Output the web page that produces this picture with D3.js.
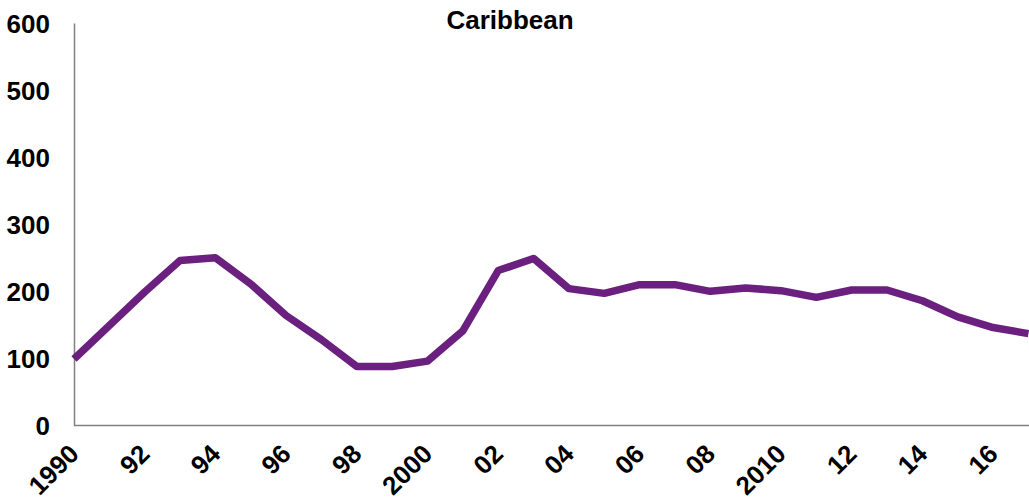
<!DOCTYPE html>
<html>
<head>
<meta charset="utf-8">
<style>
body { margin: 0; background: #fff; }
text { font-family: "Liberation Sans", Arial, sans-serif; font-weight: bold; fill: #000; }
</style>
</head>
<body>
<svg width="1029" height="499"></svg>
<script src="https://cdn.jsdelivr.net/npm/d3@7/dist/d3.min.js"></script>
<script>

var years = d3.range(1990, 2018);
var values = [99, 149, 199, 246, 250, 211, 164, 128, 88, 88, 96, 141, 231, 249,
              204, 197, 210, 210, 200, 205, 201, 191, 202, 202, 186, 162, 146, 137];
var yTicks = [0, 100, 200, 300, 400, 500, 600];
var xTicks = [1990, 1992, 1994, 1996, 1998, 2000, 2002, 2004, 2006, 2008, 2010, 2012, 2014, 2016];
var xLabels = ["1990", "92", "94", "96", "98", "2000", "02", "04", "06", "08", "2010", "12", "14", "16"];
var title = "Caribbean";

var svg = d3.select("svg"),
    margin = {top: 23, right: 0, bottom: 74, left: 74},
    width = +svg.attr("width") - margin.left - margin.right,
    height = +svg.attr("height") - margin.top - margin.bottom,
    g = svg.append("g").attr("transform", "translate(" + margin.left + "," + margin.top + ")");

var x = d3.scaleLinear()
    .domain([1990, 2017])
    .range([0, 27 * 35.35]);

var y = d3.scaleLinear()
    .domain([0, 600])
    .range([height + 0.5, 0]);

// axes
var yAxis = g.append("g")
    .call(d3.axisLeft(y).tickValues(yTicks).tickSize(0).tickPadding(24));
yAxis.select(".domain").attr("stroke", "#808080").attr("stroke-width", 1.5);
yAxis.selectAll("text").attr("font-size", 26).attr("dy", "0.35em");

var xAxis = g.append("g")
    .attr("transform", "translate(0," + y(0) + ")")
    .call(d3.axisBottom(x).tickValues(xTicks).tickSize(0)
      .tickFormat(function(d, i) { return xLabels[i]; }));
xAxis.select(".domain").attr("d", "M0,0H" + (width + 1)).attr("stroke", "#808080").attr("stroke-width", 1.5);
xAxis.selectAll("text")
    .attr("font-size", 26)
    .attr("text-anchor", "end")
    .attr("y", 0)
    .attr("dy", 0)
    .attr("transform", "translate(6,30) rotate(-45)");

// line
var line = d3.line()
    .x(function(d, i) { return x(years[i]); })
    .y(function(d) { return y(d); });

g.append("path")
    .datum(values)
    .attr("fill", "none")
    .attr("stroke", "#6b1f7f")
    .attr("stroke-width", 7.5)
    .attr("stroke-linejoin", "round")
    .attr("d", line);

svg.append("text")
    .attr("x", 510)
    .attr("y", 29)
    .attr("text-anchor", "middle")
    .attr("font-size", 26)
    .text(title);

</script>
</body>
</html>
